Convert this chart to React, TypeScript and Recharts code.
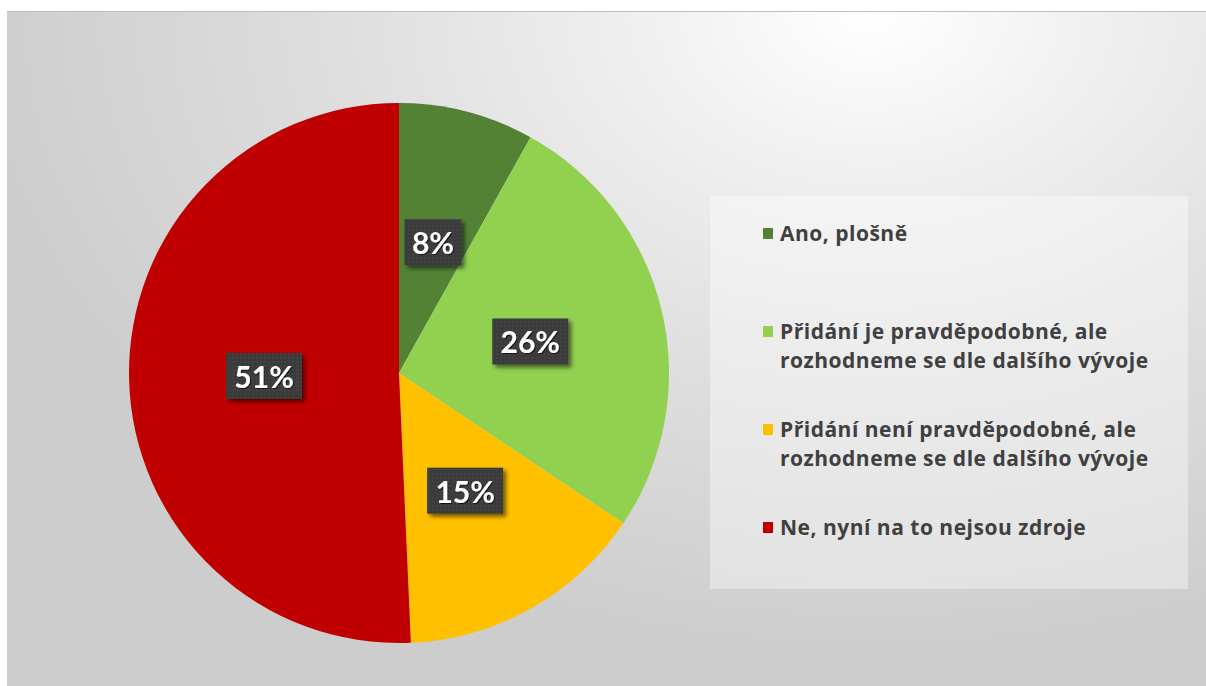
import { Cell, Legend, Pie, PieChart } from "recharts";

const categories = [
  "Ano, plošně",
  "Přidání je pravděpodobné, ale\nrozhodneme se dle dalšího vývoje",
  "Přidání není pravděpodobné, ale\nrozhodneme se dle dalšího vývoje",
  "Ne, nyní na to nejsou zdroje",
];
const shares = [8.1, 26.3, 14.9, 50.7];
const colors = ["#548235", "#92D050", "#FFC000", "#C00000"];

const data = categories.map((name, i) => ({ name, value: shares[i] }));

const RADIAN = Math.PI / 180;
const LABEL_FONT = "Lato, 'Open Sans', sans-serif";
const LEGEND_FONT = "'Open Sans', sans-serif";

function renderLabel(props: any) {
  const { cx, cy, midAngle, outerRadius, percent } = props;
  const r = outerRadius * 0.5;
  const x = cx + r * Math.cos(-midAngle * RADIAN);
  const y = cy + r * Math.sin(-midAngle * RADIAN);
  const text = `${Math.round(percent * 100)}%`;
  const w = 19 + text.length * 19;
  const h = 46;
  return (
    <g>
      <rect
        x={x - w / 2}
        y={y - h / 2}
        width={w}
        height={h}
        fill="url(#lbl-dots)"
        filter="url(#lbl-shadow)"
      />
      <text
        x={x}
        y={y}
        textAnchor="middle"
        dominantBaseline="central"
        fill="#ffffff"
        fontFamily={LABEL_FONT}
        fontWeight={700}
        fontSize={30}
        filter="url(#txt-shadow)"
      >
        {text}
      </text>
    </g>
  );
}

// legend drawn in data order (recharts would sort it by name)
function renderLegend() {
  return (
    <div
      style={{
        width: 478,
        height: 393,
        boxSizing: "border-box",
        background: "rgba(255,255,255,0.38)",
        paddingTop: 23,
        paddingLeft: 53,
        fontFamily: LEGEND_FONT,
        fontSize: 21,
        letterSpacing: 0.5,
        fontWeight: 700,
        color: "#404040",
        textAlign: "left",
      }}
    >
      {categories.map((name, i) => (
        <div key={name} style={{ height: 98, display: "flex", alignItems: "flex-start" }}>
          <span
            style={{
              width: 10,
              height: 11,
              background: colors[i],
              marginTop: 9,
              marginRight: 7,
              flex: "none",
            }}
          />
          <span style={{ whiteSpace: "pre-line", lineHeight: "29px" }}>{name}</span>
        </div>
      ))}
    </div>
  );
}

export default function App() {
  return (
    <div
      style={{
        position: "absolute",
        left: 7,
        top: 11,
        width: 1199,
        height: 675,
        borderTop: "1px solid #bdbdbd",
        background:
          "radial-gradient(ellipse 75% 95% at 72% 0%, #ffffff 0%, #f0f0f0 25%, #dedede 60%, #cdcdcd 100%)",
      }}
    >
      <PieChart width={1199} height={675} margin={{ top: 0, right: 0, bottom: 0, left: 0 }}>
        <defs>
          <pattern id="lbl-dots" width="4" height="4" patternUnits="userSpaceOnUse">
            <rect width="4" height="4" fill="#3b3b3b" />
            <circle cx="2" cy="2" r="0.7" fill="#4e4e4e" />
          </pattern>
          <filter id="lbl-shadow" x="-20%" y="-20%" width="150%" height="160%">
            <feDropShadow dx="3" dy="3" stdDeviation="2" floodColor="#000" floodOpacity="0.55" />
          </filter>
          <filter id="txt-shadow" x="-10%" y="-10%" width="130%" height="130%">
            <feDropShadow dx="1" dy="1" stdDeviation="0.6" floodColor="#000" floodOpacity="0.7" />
          </filter>
        </defs>
        <Pie
          data={data}
          dataKey="value"
          nameKey="name"
          cx={392}
          cy={361}
          outerRadius={270}
          startAngle={90}
          endAngle={-270}
          stroke="none"
          labelLine={false}
          label={renderLabel}
          isAnimationActive={false}
        >
          {data.map((d, i) => (
            <Cell key={d.name} fill={colors[i]} />
          ))}
        </Pie>
        <Legend
          layout="vertical"
          align="center"
          verticalAlign="middle"
          wrapperStyle={{ left: 703, top: 184, width: 478, height: 393 }}
          content={renderLegend}
        />
      </PieChart>
    </div>
  );
}
